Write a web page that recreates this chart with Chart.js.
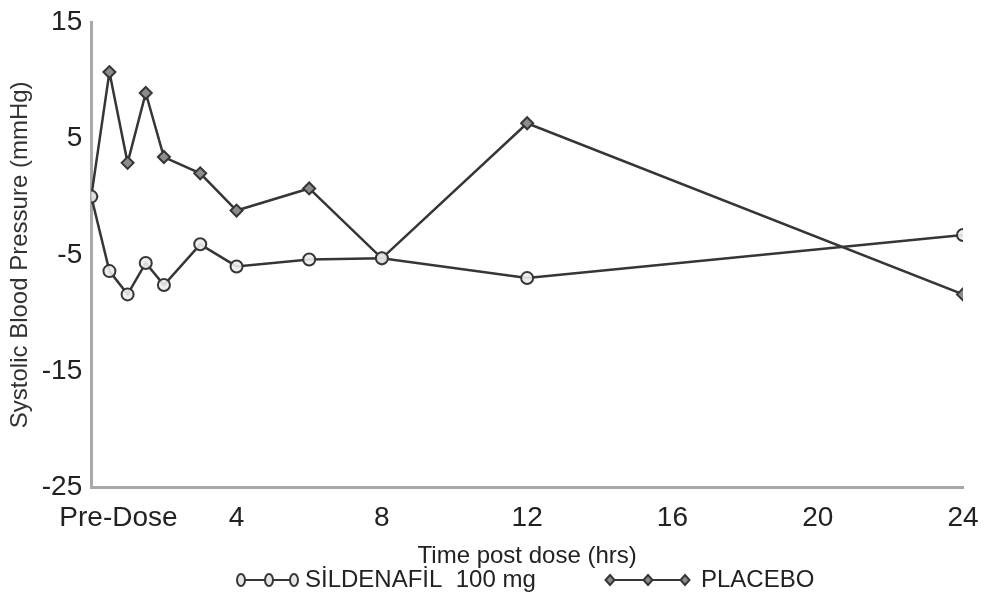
<!DOCTYPE html>
<html>
<head>
<meta charset="utf-8">
<script src="https://cdn.jsdelivr.net/npm/chart.js@4.4.1/dist/chart.umd.min.js"></script>
<style>
html,body{margin:0;padding:0;background:#fff;}
#wrap{width:990px;height:596px;position:relative;}
</style>
</head>
<body>
<div id="wrap"><canvas id="c" width="990" height="596"></canvas></div>
<script>
const timesHrs = [0, 0.5, 1, 1.5, 2, 3, 4, 6, 8, 12, 24];
const sildenafil = [0, -6.4, -8.4, -5.7, -7.6, -4.1, -6.0, -5.4, -5.3, -7.0, -3.3];
const placebo = [0, 10.7, 2.9, 8.9, 3.4, 2.0, -1.2, 0.7, -5.3, 6.3, -8.4];
const xTicks = [0, 4, 8, 12, 16, 20, 24];
const xTickLabels = ['Pre-Dose', '4', '8', '12', '16', '20', '24'];
const yTicks = [15, 5, -5, -15, -25];
const seriesNames = ['SİLDENAFİL  100 mg', 'PLACEBO'];

const lineCol = '#363636';
const axisCol = '#a8a8a8';
const textCol = '#222222';
const FONT = 'Liberation Sans, Arial, sans-serif';

const toPts = arr => timesHrs.map((t,i)=>({x:t,y:arr[i]}));

// custom legend drawn below the axis title
const legendPlugin = {
  id: 'customLegend',
  afterDraw(chart) {
    const ctx = chart.ctx;
    const cy = 580;
    ctx.save();
    ctx.strokeStyle = lineCol;
    ctx.lineWidth = 2;
    ctx.beginPath(); ctx.moveTo(237, cy); ctx.lineTo(297, cy); ctx.stroke();
    [241, 269, 294].forEach(x => {
      ctx.beginPath(); ctx.ellipse(x, cy, 4, 6, 0, 0, Math.PI*2);
      ctx.fillStyle = '#e6e6e6'; ctx.fill(); ctx.stroke();
    });
    ctx.beginPath(); ctx.moveTo(605, cy); ctx.lineTo(686, cy); ctx.stroke();
    [610, 648, 685].forEach(x => {
      ctx.beginPath();
      ctx.moveTo(x, cy-5); ctx.lineTo(x+4.5, cy); ctx.lineTo(x, cy+5); ctx.lineTo(x-4.5, cy); ctx.closePath();
      ctx.fillStyle = '#8a8a8a'; ctx.fill(); ctx.stroke();
    });
    ctx.fillStyle = textCol;
    ctx.font = '24px ' + FONT;
    ctx.textBaseline = 'middle';
    ctx.textAlign = 'left';
    ctx.fillText(chart.data.datasets[0].label, 305, cy);
    ctx.fillText(chart.data.datasets[1].label, 701, cy);
    ctx.restore();
  }
};

new Chart(document.getElementById('c'), {
  type: 'line',
  data: {
    datasets: [
      {
        label: seriesNames[0],
        data: toPts(sildenafil),
        borderColor: lineCol, borderWidth: 2.5,
        pointStyle: 'circle', pointRadius: 6,
        pointBackgroundColor: 'rgba(236,236,236,0.9)', pointBorderColor: lineCol, pointBorderWidth: 2,
        tension: 0, fill: false
      },
      {
        label: seriesNames[1],
        data: toPts(placebo),
        borderColor: lineCol, borderWidth: 2.5,
        pointStyle: 'rectRot', pointRadius: 6,
        pointBackgroundColor: '#8c8c8c', pointBorderColor: lineCol, pointBorderWidth: 2,
        tension: 0, fill: false
      }
    ]
  },
  plugins: [legendPlugin],
  options: {
    responsive: false,
    animation: false,
    devicePixelRatio: 1,
    layout: { padding: { top: 22, right: 27, left: 4, bottom: 26 } },
    plugins: {
      tooltip: { enabled: false },
      legend: { display: false }
    },
    scales: {
      x: {
        type: 'linear',
        min: 0, max: 24,
        grid: { display: false, drawTicks: true, tickLength: 6, color: axisCol, tickColor: axisCol, tickWidth: 2 },
        border: { display: true, color: axisCol, width: 3 },
        afterBuildTicks: s => { s.ticks = xTicks.map(v=>({value:v})); },
        afterFit: s => { s.paddingLeft = 0; },
        ticks: {
          color: textCol,
          font: { family: FONT, size: 28, lineHeight: 1.0 },
          padding: 11,
          maxRotation: 0,
          autoSkip: false,
          callback: (v) => { const i = xTicks.indexOf(v); return i === 0 ? '       ' + xTickLabels[0] : xTickLabels[i]; }
        },
        title: {
          display: true, text: 'Time post dose (hrs)', color: textCol,
          font: { family: FONT, size: 24, lineHeight: 1.1 },
          padding: { top: 0, bottom: 0 }
        }
      },
      y: {
        min: -25, max: 15,
        grid: { display: false, drawTicks: true, tickLength: 6, color: axisCol, tickColor: axisCol, tickWidth: 2 },
        border: { display: true, color: axisCol, width: 3 },
        afterBuildTicks: s => { s.ticks = yTicks.map(v=>({value:v})); },
        ticks: {
          color: textCol,
          font: { family: FONT, size: 28 },
          padding: 3
        },
        title: {
          display: true, text: 'Systolic Blood Pressure (mmHg)', color: '#333',
          font: { family: FONT, size: 24 },
          padding: { top: 2, bottom: 4 }
        }
      }
    }
  }
});
</script>
</body>
</html>
